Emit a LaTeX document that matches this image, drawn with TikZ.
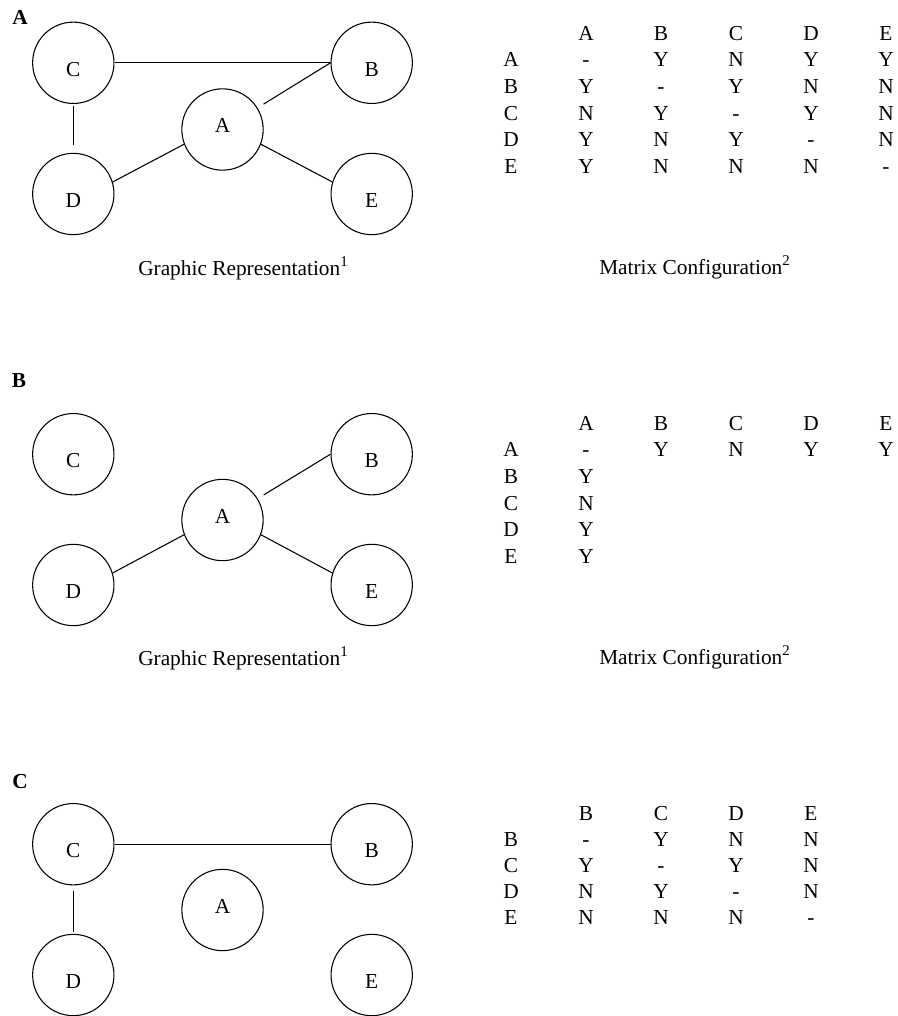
\documentclass[tikz,border=0pt]{standalone}
\usepackage{fontspec}
\setmainfont{Liberation Serif}
\begin{document}
\begin{tikzpicture}[x=0.75pt,y=-0.75pt,
  font=\fontsize{16}{19}\selectfont,
  vert/.style={draw, circle, minimum size=61pt, inner sep=0pt, line width=0.8pt},
  lbl/.style={inner sep=0pt, yshift=-5.1pt},
  lbla/.style={inner sep=0pt, yshift=3pt},
  conn/.style={line width=0.8pt},
  txt/.style={anchor=base, inner sep=0pt},
  captxt/.style={anchor=base west, inner sep=0pt},
  panel/.style={anchor=base, inner sep=0pt, font=\fontsize{16}{19}\selectfont\bfseries}]
\useasboundingbox (0,0) rectangle (898,1016);

% ---------------- Panel A ----------------
\node[panel] (pA) at (20,25) {A};
\node[vert, label={[lbl]center:C}] (cA) at (73.3,62.8) {};
\node[vert, label={[lbl]center:B}] (bA) at (371.7,62.8) {};
\node[vert, label={[lbla]center:A}] (aA) at (222.5,129.5) {};
\node[vert, label={[lbl]center:D}] (dA) at (73.3,194) {};
\node[vert, label={[lbl]center:E}] (eA) at (371.7,194) {};
\draw[conn] (cA.east) -- (bA.west);
\draw[conn, shorten <=1.2pt, shorten >=6pt] (cA.south) -- (dA.north);
\draw[conn, shorten >=5.3pt] (bA.west) -- (aA);
\draw[conn] (dA.17) -- (aA.201);
\draw[conn] (aA.-21) -- (eA.163);
\node[captxt] (gA) at (138,275) {Graphic Representation\textsuperscript{1}};
\node[captxt] (mA) at (599,274) {Matrix Configuration\textsuperscript{2}};

% matrix A
\foreach \h [count=\i] in {A,B,C,D,E}
  \node[txt] (mAh\i) at (511+75*\i,40.3) {\h};
\foreach \r/\row [count=\j] in {A/{-,Y,N,Y,Y},B/{Y,-,Y,N,N},C/{N,Y,-,Y,N},D/{Y,N,Y,-,N},E/{Y,N,N,N,-}}{
  \node[txt] (mAr\j) at (511,40.3+26.6*\j) {\r};
  \foreach \v [count=\i] in \row
    \node[txt] (mA\j\i) at (511+75*\i,40.3+26.6*\j) {\v};
}

% ---------------- Panel B ----------------
\node[panel] (pB) at (19,387) {B};
\node[vert, label={[lbl]center:C}] (cB) at (73.3,454.2) {};
\node[vert, label={[lbl]center:B}] (bB) at (371.7,454.2) {};
\node[vert, label={[lbla]center:A}] (aB) at (222.5,520) {};
\node[vert, label={[lbl]center:D}] (dB) at (73.3,585) {};
\node[vert, label={[lbl]center:E}] (eB) at (371.7,585) {};
\draw[conn, shorten >=5.3pt] (bB.west) -- (aB);
\draw[conn] (dB.17) -- (aB.201);
\draw[conn] (aB.-21) -- (eB.163);
\node[captxt] (gB) at (138,665) {Graphic Representation\textsuperscript{1}};
\node[captxt] (mB) at (599,664) {Matrix Configuration\textsuperscript{2}};

% matrix B
\foreach \h [count=\i] in {A,B,C,D,E}
  \node[txt] (mBh\i) at (511+75*\i,430.3) {\h};
\foreach \v [count=\i] in {-,Y,N,Y,Y}
  \node[txt] (mB1\i) at (511+75*\i,456.9) {\v};
\foreach \r [count=\j] in {A,B,C,D,E}
  \node[txt] (mBr\j) at (511,430.3+26.6*\j) {\r};
\foreach \v [count=\j from 2] in {Y,N,Y,Y}
  \node[txt] (mB\j1) at (586,430.3+26.6*\j) {\v};

% ---------------- Panel C ----------------
\node[panel] (pC) at (20,788.7) {C};
\node[vert, label={[lbl]center:C}] (cC) at (73.3,844.2) {};
\node[vert, label={[lbl]center:B}] (bC) at (371.7,844.2) {};
\node[vert, label={[lbla]center:A}] (aC) at (222.5,910) {};
\node[vert, label={[lbl]center:D}] (dC) at (73.3,975) {};
\node[vert, label={[lbl]center:E}] (eC) at (371.7,975) {};
\draw[conn] (cC.east) -- (bC.west);
\draw[conn, shorten <=4.5pt, shorten >=1.7pt] (cC.south) -- (dC.north);

% matrix C
\foreach \h [count=\i] in {B,C,D,E}
  \node[txt] (mCh\i) at (511+75*\i,820.3) {\h};
\foreach \r/\row [count=\j] in {B/{-,Y,N,N},C/{Y,-,Y,N},D/{N,Y,-,N},E/{N,N,N,-}}{
  \node[txt] (mCr\j) at (511,820.3+26.1*\j) {\r};
  \foreach \v [count=\i] in \row
    \node[txt] (mC\j\i) at (511+75*\i,820.3+26.1*\j) {\v};
}
\end{tikzpicture}
\end{document}
